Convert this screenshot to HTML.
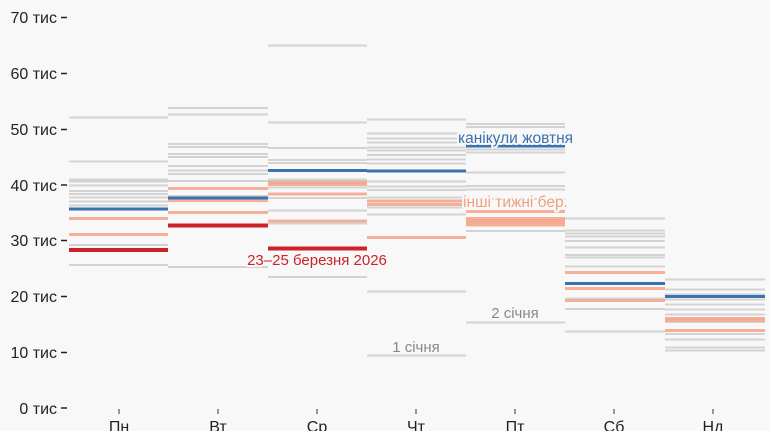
<!DOCTYPE html>
<html><head><meta charset="utf-8"><style>
html,body{margin:0;padding:0;background:#f8f8f8;}
svg{display:block;font-family:"Liberation Sans","DejaVu Sans",sans-serif;}
.g line{stroke:#b8b8b8;stroke-opacity:.58;stroke-width:2;}
.b line{stroke:#3872b0;stroke-width:3;}
.r line{stroke:#cc2229;stroke-width:4;}
.s line{stroke:#f4a58c;stroke-opacity:.9;stroke-width:3;}
.ax text{font-size:16px;fill:#222;}
.lab{font-size:15px;stroke:#f8f8f8;stroke-width:4;stroke-linejoin:round;paint-order:stroke;}
</style></head><body>
<svg width="770" height="431" viewBox="0 0 770 431" xmlns="http://www.w3.org/2000/svg">
<rect width="770" height="431" fill="#f8f8f8"/>
<!-- y axis -->
<g class="ax" text-anchor="end">
<text x="57" y="23">70 тис</text>
<text x="57" y="79">60 тис</text>
<text x="57" y="135">50 тис</text>
<text x="57" y="191">40 тис</text>
<text x="57" y="246">30 тис</text>
<text x="57" y="302">20 тис</text>
<text x="57" y="358">10 тис</text>
<text x="57" y="414">0 тис</text>
</g>
<g stroke="#222" stroke-width="1.5">
<line x1="61" x2="67" y1="17.5" y2="17.5"/>
<line x1="61" x2="67" y1="73.5" y2="73.5"/>
<line x1="61" x2="67" y1="129.5" y2="129.5"/>
<line x1="61" x2="67" y1="185" y2="185"/>
<line x1="61" x2="67" y1="240.5" y2="240.5"/>
<line x1="61" x2="67" y1="296.5" y2="296.5"/>
<line x1="61" x2="67" y1="352.5" y2="352.5"/>
<line x1="61" x2="67" y1="408" y2="408"/>
</g>
<!-- x axis -->
<g stroke="#333" stroke-width="1">
<line x1="119" x2="119" y1="409" y2="414"/>
<line x1="218" x2="218" y1="409" y2="414"/>
<line x1="317" x2="317" y1="409" y2="414"/>
<line x1="416" x2="416" y1="409" y2="414"/>
<line x1="515" x2="515" y1="409" y2="414"/>
<line x1="614" x2="614" y1="409" y2="414"/>
<line x1="713" x2="713" y1="409" y2="414"/>
</g>
<g class="ax" text-anchor="middle">
<text x="119" y="432">Пн</text>
<text x="218" y="432">Вт</text>
<text x="317" y="432">Ср</text>
<text x="416" y="432">Чт</text>
<text x="515" y="432">Пт</text>
<text x="614" y="432">Сб</text>
<text x="713" y="432">Нд</text>
</g>

<!-- Пн -->
<g class="g">
<line x1="69" x2="168" y1="117.5" y2="117.5"/>
<line x1="69" x2="168" y1="161.5" y2="161.5"/>
<line x1="69" x2="168" y1="179.5" y2="179.5"/>
<line x1="69" x2="168" y1="181.5" y2="181.5"/>
<line x1="69" x2="168" y1="185.5" y2="185.5"/>
<line x1="69" x2="168" y1="191" y2="191"/>
<line x1="69" x2="168" y1="194" y2="194"/>
<line x1="69" x2="168" y1="197.5" y2="197.5"/>
<line x1="69" x2="168" y1="201.5" y2="201.5"/>
<line x1="69" x2="168" y1="205.5" y2="205.5"/>
<line x1="69" x2="168" y1="245" y2="245"/>
<line x1="69" x2="168" y1="265" y2="265"/>
</g>
<g class="s"><line x1="69" x2="168" y1="218.5" y2="218.5"/><line x1="69" x2="168" y1="234.5" y2="234.5"/></g>
<g class="b"><line x1="69" x2="168" y1="209" y2="209"/></g>
<g class="r"><line x1="69" x2="168" y1="250" y2="250"/></g>

<!-- Вт -->
<g class="g">
<line x1="168" x2="268" y1="108" y2="108"/>
<line x1="168" x2="268" y1="114.5" y2="114.5"/>
<line x1="168" x2="268" y1="144" y2="144"/>
<line x1="168" x2="268" y1="147" y2="147"/>
<line x1="168" x2="268" y1="154" y2="154"/>
<line x1="168" x2="268" y1="157" y2="157"/>
<line x1="168" x2="268" y1="166" y2="166"/>
<line x1="168" x2="268" y1="170.5" y2="170.5"/>
<line x1="168" x2="268" y1="174" y2="174"/>
<line x1="168" x2="268" y1="181" y2="181"/>
<line x1="168" x2="268" y1="196" y2="196"/>
<line x1="168" x2="268" y1="267" y2="267"/>
</g>
<g class="s"><line x1="168" x2="268" y1="188.5" y2="188.5"/><line x1="168" x2="268" y1="200.5" y2="200.5"/><line x1="168" x2="268" y1="212.5" y2="212.5"/></g>
<g class="b"><line x1="168" x2="268" y1="198" y2="198"/></g>
<g class="r"><line x1="168" x2="268" y1="225.5" y2="225.5"/></g>

<!-- Ср -->
<g class="g">
<line x1="268" x2="367" y1="45.5" y2="45.5"/>
<line x1="268" x2="367" y1="122.5" y2="122.5"/>
<line x1="268" x2="367" y1="148" y2="148"/>
<line x1="268" x2="367" y1="160" y2="160"/>
<line x1="268" x2="367" y1="163" y2="163"/>
<line x1="268" x2="367" y1="179.5" y2="179.5"/>
<line x1="268" x2="367" y1="181" y2="181"/>
<line x1="268" x2="367" y1="187.5" y2="187.5"/>
<line x1="268" x2="367" y1="198" y2="198"/>
<line x1="268" x2="367" y1="210.5" y2="210.5"/>
<line x1="268" x2="367" y1="223.5" y2="223.5"/>
<line x1="268" x2="367" y1="277" y2="277"/>
</g>
<g class="s"><line x1="268" x2="367" y1="182.5" y2="182.5"/><line x1="268" x2="367" y1="184.5" y2="184.5"/><line x1="268" x2="367" y1="194" y2="194"/><line x1="268" x2="367" y1="221" y2="221"/></g>
<g class="b"><line x1="268" x2="367" y1="170.5" y2="170.5"/></g>
<g class="r"><line x1="268" x2="367" y1="248.5" y2="248.5"/></g>

<!-- Чт -->
<g class="g">
<line x1="367" x2="466" y1="119.5" y2="119.5"/>
<line x1="367" x2="466" y1="133.5" y2="133.5"/>
<line x1="367" x2="466" y1="138.5" y2="138.5"/>
<line x1="367" x2="466" y1="142.5" y2="142.5"/>
<line x1="367" x2="466" y1="147.5" y2="147.5"/>
<line x1="367" x2="466" y1="150.5" y2="150.5"/>
<line x1="367" x2="466" y1="155" y2="155"/>
<line x1="367" x2="466" y1="159.5" y2="159.5"/>
<line x1="367" x2="466" y1="163.5" y2="163.5"/>
<line x1="367" x2="466" y1="181.5" y2="181.5"/>
<line x1="367" x2="466" y1="186.5" y2="186.5"/>
<line x1="367" x2="466" y1="190" y2="190"/>
<line x1="367" x2="466" y1="197.5" y2="197.5"/>
<line x1="367" x2="466" y1="207.5" y2="207.5"/>
<line x1="367" x2="466" y1="214.5" y2="214.5"/>
<line x1="367" x2="466" y1="291.5" y2="291.5"/>
<line x1="367" x2="466" y1="355.5" y2="355.5"/>
</g>
<g class="s"><line x1="367" x2="466" y1="201" y2="201"/><line x1="367" x2="466" y1="204.5" y2="204.5"/><line x1="367" x2="466" y1="237.5" y2="237.5"/></g>
<g class="b"><line x1="367" x2="466" y1="171" y2="171"/></g>

<!-- Пт -->
<g class="g">
<line x1="466" x2="565" y1="124" y2="124"/>
<line x1="466" x2="565" y1="127" y2="127"/>
<line x1="466" x2="565" y1="149.5" y2="149.5"/>
<line x1="466" x2="565" y1="152.5" y2="152.5"/>
<line x1="466" x2="565" y1="172.5" y2="172.5"/>
<line x1="466" x2="565" y1="186" y2="186"/>
<line x1="466" x2="565" y1="189.5" y2="189.5"/>
<line x1="466" x2="565" y1="199" y2="199"/>
<line x1="466" x2="565" y1="231" y2="231"/>
<line x1="466" x2="565" y1="322.5" y2="322.5"/>
</g>
<g class="s"><line x1="466" x2="565" y1="211.5" y2="211.5"/><line x1="466" x2="565" y1="218.5" y2="218.5"/><line x1="466" x2="565" y1="220.5" y2="220.5"/><line x1="466" x2="565" y1="222.5" y2="222.5"/><line x1="466" x2="565" y1="225" y2="225"/></g>
<g class="b"><line x1="466" x2="565" y1="146" y2="146"/></g>

<!-- Сб -->
<g class="g">
<line x1="565" x2="665" y1="218.5" y2="218.5"/>
<line x1="565" x2="665" y1="230.5" y2="230.5"/>
<line x1="565" x2="665" y1="233.5" y2="233.5"/>
<line x1="565" x2="665" y1="236.5" y2="236.5"/>
<line x1="565" x2="665" y1="241" y2="241"/>
<line x1="565" x2="665" y1="247.5" y2="247.5"/>
<line x1="565" x2="665" y1="255" y2="255"/>
<line x1="565" x2="665" y1="257.5" y2="257.5"/>
<line x1="565" x2="665" y1="266.5" y2="266.5"/>
<line x1="565" x2="665" y1="298.5" y2="298.5"/>
<line x1="565" x2="665" y1="309" y2="309"/>
<line x1="565" x2="665" y1="331.5" y2="331.5"/>
</g>
<g class="s"><line x1="565" x2="665" y1="272.5" y2="272.5"/><line x1="565" x2="665" y1="288.5" y2="288.5"/><line x1="565" x2="665" y1="300.5" y2="300.5"/></g>
<g class="b"><line x1="565" x2="665" y1="283.5" y2="283.5"/></g>

<!-- Нд -->
<g class="g">
<line x1="665" x2="765" y1="279.5" y2="279.5"/>
<line x1="665" x2="765" y1="289.5" y2="289.5"/>
<line x1="665" x2="765" y1="294.5" y2="294.5"/>
<line x1="665" x2="765" y1="299.5" y2="299.5"/>
<line x1="665" x2="765" y1="304.5" y2="304.5"/>
<line x1="665" x2="765" y1="309.5" y2="309.5"/>
<line x1="665" x2="765" y1="314.5" y2="314.5"/>
<line x1="665" x2="765" y1="322" y2="322"/>
<line x1="665" x2="765" y1="334" y2="334"/>
<line x1="665" x2="765" y1="339.5" y2="339.5"/>
<line x1="665" x2="765" y1="347.5" y2="347.5"/>
<line x1="665" x2="765" y1="350.5" y2="350.5"/>
</g>
<g class="s"><line x1="665" x2="765" y1="318.5" y2="318.5"/><line x1="665" x2="765" y1="320.5" y2="320.5"/><line x1="665" x2="765" y1="330.5" y2="330.5"/></g>
<g class="b"><line x1="665" x2="765" y1="296.5" y2="296.5"/></g>

<!-- labels -->
<g text-anchor="middle">
<text class="lab" x="515.5" y="143" fill="#3872b0" style="font-size:15.5px">канікули жовтня</text>
<text class="lab" x="515.5" y="207" fill="#f0a080" style="font-size:15.5px">інші тижні бер.</text>
<text class="lab" x="317" y="265" fill="#cc2229">23–25 березня 2026</text>
<text class="lab" x="416" y="352" fill="#888">1 січня</text>
<text class="lab" x="515" y="318" fill="#888">2 січня</text>
</g>
</svg>
</body></html>
